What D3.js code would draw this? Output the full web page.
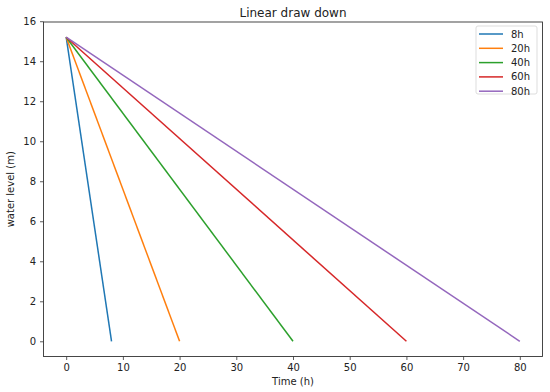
<!DOCTYPE html>
<html>
<head>
<meta charset="utf-8">
<script src="https://cdn.jsdelivr.net/npm/d3@7"></script>
<style>
  body { margin: 0; background: #fff; }
  svg text { font-family: "DejaVu Sans", sans-serif; fill: #222; }
</style>
</head>
<body>
<div id="chart"></div>
<script>

// Data.
var seriesNames = ['8h', '20h', '40h', '60h', '80h'];
var drainHours = [8, 20, 40, 60, 80];
var startLevel = 15.2;
var endLevel = 0;
var colors = ['#1f77b4', '#ff7f0e', '#2ca02c', '#d62728', '#9467bd'];
var xTicks = [0, 10, 20, 30, 40, 50, 60, 70, 80];
var yTicks = [0, 2, 4, 6, 8, 10, 12, 14, 16];

// Layout.
var width = 550, height = 392;
var margin = { top: 22, right: 7.5, bottom: 35.5, left: 43.5 };

var svg = d3.select('#chart').append('svg')
  .attr('width', width)
  .attr('height', height);

var x = d3.scaleLinear()
  .domain([-4, 84])
  .range([margin.left, width - margin.right]);

var y = d3.scaleLinear()
  .domain([-0.76, 15.96])
  .range([height - margin.bottom, margin.top]);

// Axes.
var xAxis = svg.append('g')
  .attr('transform', 'translate(0,' + (height - margin.bottom) + ')')
  .call(d3.axisBottom(x).tickValues(xTicks).tickSize(3.5).tickPadding(4));

var yAxis = svg.append('g')
  .attr('transform', 'translate(' + margin.left + ',0)')
  .call(d3.axisLeft(y).tickValues(yTicks).tickSize(3.5).tickPadding(4));

[xAxis, yAxis].forEach(function(g) {
  g.select('.domain').remove();
  g.selectAll('text').style('font-size', '10px').attr('fill', '#222');
  g.selectAll('line').attr('stroke', '#333').attr('stroke-width', 0.8);
});

// Frame.
svg.append('rect')
  .attr('x', margin.left)
  .attr('y', margin.top)
  .attr('width', width - margin.left - margin.right)
  .attr('height', height - margin.top - margin.bottom)
  .attr('fill', 'none')
  .attr('stroke', '#333')
  .attr('stroke-width', 0.9);

// Lines.
var line = d3.line()
  .x(function(d) { return x(d[0]); })
  .y(function(d) { return y(d[1]); });

drainHours.forEach(function(h, i) {
  svg.append('path')
    .datum([[0, startLevel], [h, endLevel]])
    .attr('d', line)
    .attr('fill', 'none')
    .attr('stroke', colors[i])
    .attr('stroke-width', 1.5);
});

// Title and labels.
svg.append('text')
  .attr('x', (margin.left + width - margin.right) / 2)
  .attr('y', 17)
  .attr('text-anchor', 'middle')
  .style('font-size', '12px')
  .text('Linear draw down');

svg.append('text')
  .attr('x', (margin.left + width - margin.right) / 2)
  .attr('y', 385)
  .attr('text-anchor', 'middle')
  .style('font-size', '10px')
  .text('Time (h)');

svg.append('text')
  .attr('transform', 'translate(14,' + ((margin.top + height - margin.bottom) / 2) + ') rotate(-90)')
  .attr('text-anchor', 'middle')
  .style('font-size', '10px')
  .text('water level (m)');

// Legend.
var legend = svg.append('g').attr('transform', 'translate(476,26)');

legend.append('rect')
  .attr('width', 61)
  .attr('height', 68)
  .attr('rx', 2)
  .attr('fill', '#fff')
  .attr('fill-opacity', 0.8)
  .attr('stroke', '#ddd');

seriesNames.forEach(function(name, i) {
  var yy = 8 + i * 14.3;
  legend.append('line')
    .attr('x1', 3).attr('x2', 27)
    .attr('y1', yy).attr('y2', yy)
    .attr('stroke', colors[i])
    .attr('stroke-width', 1.5);
  legend.append('text')
    .attr('x', 35)
    .attr('y', yy + 3.5)
    .style('font-size', '10px')
    .text(name);
});

</script>
</body>
</html>
